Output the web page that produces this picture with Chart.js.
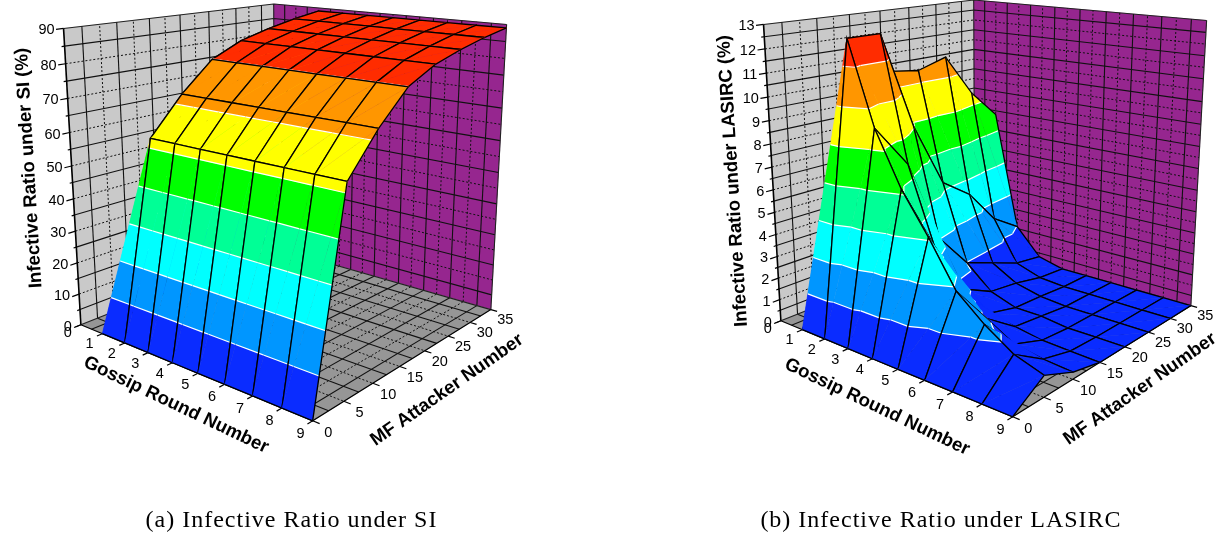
<!DOCTYPE html>
<html><head><meta charset="utf-8">
<style>html,body{margin:0;padding:0;background:#fff}canvas{display:block}</style>
<script src="https://cdn.jsdelivr.net/npm/chart.js@4/dist/chart.umd.min.js"></script>
</head><body><canvas id="c" width="1222" height="539"></canvas>
<script>
const gossipRounds=[1,2,3,4,5,6,7,8,9];
const attackerNumbers=[0,5,10,15,20,25,30,35];
const siRatio=[
 [0,3,5,7,8,9,10,11],
 [0,59,70,78.7,83,85.5,87.5,89],
 [0,59,70,78.7,83,85.5,87.5,89],
 [0,59,70,78.7,83,85.5,87.5,89],
 [0,59,70,78.7,83,85.5,87.5,89],
 [0,59,70,78.7,83,85.5,87.5,89],
 [0,59,70,78.7,83,85.5,87.5,89],
 [0,59,70,78.7,83,85.5,87.5,89],
 [0,59,70,78.7,83,85.5,87.5,89]
];
const lasircRatio=[
 [0,3,9,10.5,10.3,10.7,8.7,7.3],
 [0,12.5,12.5,8.2,5.2,4.2,2.5,1.6],
 [0,9,7.1,3.3,1.6,1.05,.5,.3],
 [0,6.7,3.8,1.25,.55,.38,.1,0],
 [0,5,2.1,.5,.15,.1,0,0],
 [0,3.1,1.3,.3,.15,0,0,0],
 [0,2.1,.6,.1,0,0,0,0],
 [0,1.3,.4,.05,0,0,0,0],
 [0,.9,.3,0,0,0,0,0]
];
const bandColors=['#0a2cff','#0096ff','#00ffff','#00ff96','#00ff00','#ffff00','#ff9600','#ff2c00'];
const BLACK='#000';
const panels=[
 {dx:0,dy:0,zMax:90,zStep:10,rows:siRatio,ztitle:'Infective Ratio under SI (%)',caption:'(a) Infective Ratio under SI',capX:291.5,tx:29,ty:168,gx:176,gy:405,mx:447,my:390},
 {dx:700,dy:-4,zMax:13,zStep:1,rows:lasircRatio,ztitle:'Infective Ratio under LASIRC (%)',caption:'(b) Infective Ratio under LASIRC',capX:941,tx:733,ty:181,gx:877,gy:407,mx:1140,my:389}
];
// camera anchors (unit cube corner -> page position), solved into a projective matrix
const anchors=[[0,0,0,81,325],[1,0,0,312,421],[1,1,0,491,309],[0,1,0,275,248],[0,0,1,64,28],[0,1,1,273,4],[1,1,1,507,25]];
function solve(A,b){const n=b.length;for(let i=0;i<n;i++){let p=i;for(let r=i+1;r<n;r++)if(Math.abs(A[r][i])>Math.abs(A[p][i]))p=r;[A[i],A[p]]=[A[p],A[i]];[b[i],b[p]]=[b[p],b[i]];for(let r=i+1;r<n;r++){const f=A[r][i]/A[i][i];for(let c=i;c<n;c++)A[r][c]-=f*A[i][c];b[r]-=f*b[i];}}const x=Array(n).fill(0);for(let i=n-1;i>=0;i--){let s=b[i];for(let c=i+1;c<n;c++)s-=A[i][c]*x[c];x[i]=s/A[i][i];}return x;}
const P=(()=>{const rows=[],rhs=[];anchors.forEach(([u,v,w,x,y])=>{rows.push([u/100,v/100,w/100,1/100,0,0,0,0,-u*x/100,-v*x/100,-w*x/100]);rhs.push(x/100);rows.push([0,0,0,0,u/100,v/100,w/100,1/100,-u*y/100,-v*y/100,-w*y/100]);rhs.push(y/100);});const n=11,A=Array.from({length:n},()=>Array(n).fill(0)),b=Array(n).fill(0);rows.forEach((r,k)=>{for(let i=0;i<n;i++){b[i]+=r[i]*rhs[k];for(let j=0;j<n;j++)A[i][j]+=r[i]*r[j];}});return solve(A,b);})();
function proj(u,v,w,pn){const d=P[8]*u+P[9]*v+P[10]*w+1;return {x:(P[0]*u+P[1]*v+P[2]*w+P[3]*1)/d+pn.dx,y:(P[4]*u+P[5]*v+P[6]*w+P[7]*1)/d+pn.dy};}
const gU=g=>g/9,mV=m=>m/35;
const out=[];
function addLine(pts,color,width,dash){out.push({data:pts,showLine:true,fill:false,borderColor:color,borderWidth:width,borderDash:dash||[],pointRadius:0,tension:0,clip:false});}
function addPoly(pts,color){const c=pts.concat([pts[0]]);out.push({data:c,showLine:false,polyFill:color,borderColor:'transparent',borderWidth:0,pointRadius:0,clip:false});}
function clipBand(tri,lo,hi){
 const clip=(poly,lev,keepAbove)=>{const r=[];for(let i=0;i<poly.length;i++){const a=poly[i],b=poly[(i+1)%poly.length];const ia=keepAbove?a[2]>=lev:a[2]<=lev,ib=keepAbove?b[2]>=lev:b[2]<=lev;if(ia)r.push(a);if(ia!==ib){const t=(lev-a[2])/(b[2]-a[2]);r.push([a[0]+t*(b[0]-a[0]),a[1]+t*(b[1]-a[1]),lev]);}}return r;};
 let p=clip(tri,lo,true);if(p.length)p=clip(p,hi,false);return p;
}
function levelSeg(tri,lev){const r=[];for(let i=0;i<3;i++){const a=tri[i],b=tri[(i+1)%3];if((a[2]<lev)!==(b[2]<lev)){const t=(lev-a[2])/(b[2]-a[2]);r.push([a[0]+t*(b[0]-a[0]),a[1]+t*(b[1]-a[1]),lev]);}}return r.length===2?r:null;}
function gridLine(pts,odd){addLine(pts,'#111',odd?1.1:1,odd?[]:[2,2]);}
function buildPanel(pn){
 const Z=z=>z/pn.zMax;
 const pr=(g,m,z)=>proj(gU(g),mV(m),Z(z),pn);
 addPoly([pr(0,0,0),pr(0,35,0),pr(0,35,pn.zMax),pr(0,0,pn.zMax)],'#c9c9c9');
 addPoly([pr(0,35,0),pr(9,35,0),pr(9,35,pn.zMax),pr(0,35,pn.zMax)],'#96268f');
 addPoly([pr(0,0,0),pr(9,0,0),pr(9,35,0),pr(0,35,0)],'#969696');
 const half=pn.zStep/2;
 for(let z=half,i=1;z<pn.zMax-1e-6;z+=half,i++)gridLine([pr(0,0,z),pr(0,35,z),pr(9,35,z)],i%2===1);
 addLine([pr(0,0,pn.zMax),pr(0,35,pn.zMax),pr(9,35,pn.zMax)],'#222',1.1);
 for(let m=2.5,i=1;m<35;m+=2.5,i++){gridLine([pr(0,m,0),pr(0,m,pn.zMax)],i%2===1);gridLine([pr(0,m,0),pr(9,m,0)],i%2===1);}
 for(let g=.5,i=1;g<9;g+=.5,i++){gridLine([pr(g,35,0),pr(g,35,pn.zMax)],i%2===1);gridLine([pr(g,0,0),pr(g,35,0)],i%2===1);}
 addLine([pr(0,35,0),pr(0,35,pn.zMax)],'#222',1.1);
 addLine([pr(9,35,0),pr(9,35,pn.zMax)],'#222',1.1);
 addLine([pr(0,35,0),pr(9,35,0)],'#222',1.1);
 addLine([pr(0,0,0),pr(0,35,0)],'#222',1.1);
 addLine([pr(0,0,0),pr(0,0,pn.zMax)],BLACK,1.6);
 addLine([pr(0,0,0),pr(9,0,0),pr(9,35,0)],BLACK,1.2);
 for(let z=0,i=0;z<=pn.zMax+1e-6;z+=half,i++){addLine([pr(0,0,z),pr(0,i%2?-0.4:-1,z)],BLACK,1.2);}
 for(let g=0;g<=9;g++)addLine([pr(g,0,0),pr(g,-.8,0)],BLACK,1.2);
 for(let m=0;m<=35;m+=5)addLine([pr(9,m,0),pr(9.22,m,0)],BLACK,1.2);
 const levels=[];for(let i=1;i<8;i++)levels.push(pn.zMax*i/8);
 const edges=[0].concat(levels,[pn.zMax*1.01]);
 for(let gi=0;gi<8;gi++){
  for(let mi=6;mi>=0;mi--){
   const g0=gossipRounds[gi],g1=gossipRounds[gi+1],m0=attackerNumbers[mi],m1=attackerNumbers[mi+1];
   const a=[g0,m0,pn.rows[gi][mi]],b=[g1,m0,pn.rows[gi+1][mi]],c=[g1,m1,pn.rows[gi+1][mi+1]],d=[g0,m1,pn.rows[gi][mi+1]];
   const toPt=q=>pr(q[0],q[1],q[2]);
   const drawTri=t=>{
    for(let k=0;k<8;k++){const poly=clipBand(t,edges[k],edges[k+1]);if(poly.length>=3)addPoly(poly.map(toPt),bandColors[k]);}
    levels.forEach(l=>{const s=levelSeg(t,l);if(s)addLine(s.map(toPt),'#fff',1.2);});
   };
   drawTri([a,c,d]);
   addLine([c,d,a].map(toPt),BLACK,1.3);
   drawTri([a,b,c]);
   addLine([a,b,c].map(toPt),BLACK,1.3);
  }
 }
}
panels.forEach(buildPanel);
const polyPlugin={id:'poly',beforeDatasetDraw(chart,args){const ds=chart.data.datasets[args.index];if(!ds.polyFill)return;const pts=args.meta.data,ctx=chart.ctx;ctx.save();ctx.beginPath();pts.forEach((p,i)=>i?ctx.lineTo(p.x,p.y):ctx.moveTo(p.x,p.y));ctx.closePath();ctx.fillStyle=ds.polyFill;ctx.strokeStyle=ds.polyFill;ctx.lineWidth=.4;ctx.fill();ctx.stroke();ctx.restore();}};
const textPlugin={id:'txt',afterDraw(chart){const ctx=chart.ctx,sx=chart.scales.x,sy=chart.scales.y;
 const T=(s,x,y,font,ang,al,sp)=>{ctx.save();ctx.translate(sx.getPixelForValue(x),sy.getPixelForValue(y));ctx.rotate((ang||0)*Math.PI/180);ctx.font=font;ctx.letterSpacing=sp||'0px';ctx.fillStyle='#000';ctx.textAlign=al||'center';ctx.textBaseline='middle';ctx.fillText(s,0,0);ctx.restore();};
 const tick='14.5px "Liberation Sans"',bold='bold 18.6px "Liberation Sans"';
 panels.forEach(pn=>{
  const Z=z=>z/pn.zMax,pr=(g,m,z)=>proj(gU(g),mV(m),Z(z),pn);
  for(let z=0;z<=pn.zMax+1e-6;z+=pn.zStep){const p=pr(0,0,z);T(String(z),p.x-9,p.y+2,tick,0,'right');}
  const o=pr(0,0,0);T('0',o.x-9,o.y+8,tick,0,'right');
  gossipRounds.forEach(g=>{const p=pr(g,-2.6,0);T(String(g),p.x+5,p.y+3,tick);});
  attackerNumbers.forEach(m=>{const p=pr(9.4,m,0);T(String(m),p.x+3,p.y+7,tick);});
  T(pn.ztitle,pn.tx,pn.ty,bold,-93.5);
  T('Gossip Round Number',pn.gx,pn.gy,bold,25.5);
  T('MF Attacker Number',pn.mx,pn.my,bold,-35);
  T(pn.caption,pn.capX,521,'24px "Liberation Serif"',0,'center','1px');
 });
}};
new Chart(document.getElementById('c'),{type:'scatter',data:{datasets:out.slice().reverse()},plugins:[polyPlugin,textPlugin],
 options:{responsive:false,animation:false,events:[],layout:{padding:0},
  plugins:{legend:{display:false},tooltip:{enabled:false}},
  scales:{x:{type:'linear',min:0,max:1222,display:false},y:{type:'linear',min:0,max:539,reverse:true,display:false}}}});
</script></body></html>
